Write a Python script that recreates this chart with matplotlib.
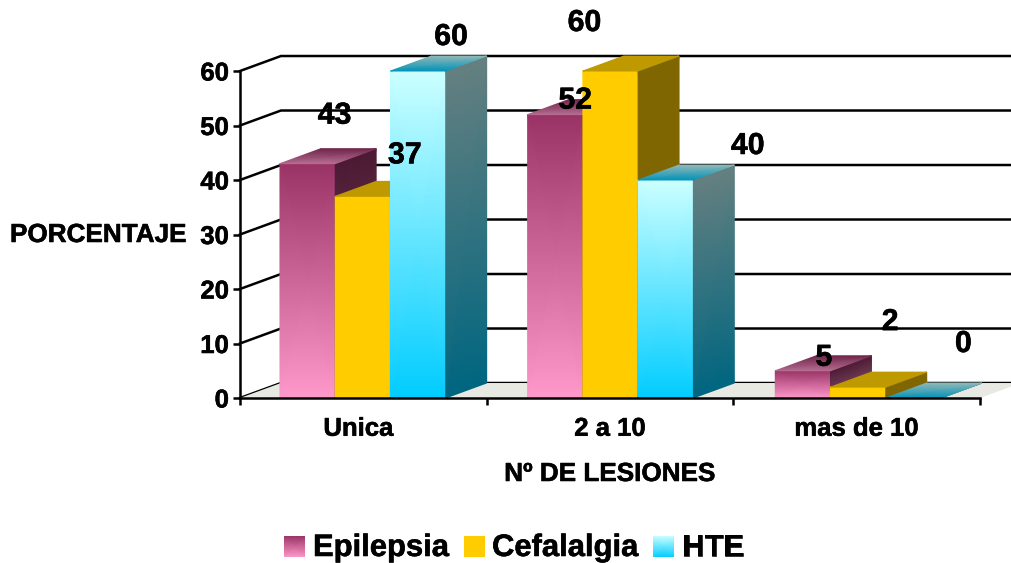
import numpy as np
import matplotlib
matplotlib.use("Agg")
import matplotlib.pyplot as plt
import matplotlib.patheffects as pe
from matplotlib.colors import to_rgb
from matplotlib.patches import Polygon

plt.rcParams["font.family"] = ["Liberation Sans", "DejaVu Sans"]
plt.rcParams["font.weight"] = "bold"

# Data
categories = ["Unica", "2 a 10", "mas de 10"]
series_names = ["Epilepsia", "Cefalalgia", "HTE"]
epilepsia = [43, 52, 5]
cefalalgia = [37, 60, 2]
hte = [60, 40, 0]
y_ticks = [0, 10, 20, 30, 40, 50, 60]

# Style: (colour at top of bar, colour at bottom of bar)
series_colors = [("#993366", "#ff99cc"), ("#ffcc00", "#ffcc00"), ("#ccffff", "#00ccff")]
# Value label shifts from the front-centre of each bar top, in pixels
label_shifts = [
    [(27, 48), (42, 41), (33, 34)],
    [(20, 14), (-26, 48), (82, 34)],
    [(21, 13), (32, 65), (50, 54)],
]

W, H = 1012, 563
BAR_W = 0.224
GAP = 0.162
GROUP_STEP = 1.004
DEPTH_X = 0.166
DEPTH_Y = 2.75
LINE_W = 1.8
heavy = [pe.withStroke(linewidth=0.4, foreground="black")]


def shade(color, k):
    return np.array(to_rgb(color)) * k


def quad(ax, xs, ys, colors, z):
    # xs, ys, colors are 2x2 corner grids, colours blended across the face
    ax.pcolormesh(np.array(xs), np.array(ys), np.array(colors), shading="gouraud",
                  zorder=z, clip_on=False, antialiased=True)


fig = plt.figure(figsize=(W / 100, H / 100), dpi=100)
ax = fig.add_axes([240 / W, (H - 398) / H, 740 / W, 327 / H])
ax.set_xlim(0, 3)
ax.set_ylim(0, 60)

# Back wall lines and floor
for t in y_ticks:
    ax.plot([0, DEPTH_X, 3 + DEPTH_X], [t, t + DEPTH_Y, t + DEPTH_Y], color="black",
            lw=LINE_W, clip_on=False, zorder=1, solid_joinstyle="miter")
ax.add_patch(Polygon([(0, 0), (3, 0), (3 + DEPTH_X, DEPTH_Y), (DEPTH_X, DEPTH_Y)],
                     facecolor="#e9e9e4", edgecolor="none", clip_on=False, zorder=1.5))

# Bars, left to right so each one covers the side of the previous one
all_values = [epilepsia, cefalalgia, hte]
z = 3
for i in range(len(categories)):
    for j, values in enumerate(all_values):
        v = values[i]
        x0 = i * GROUP_STEP + GAP + j * BAR_W
        x1 = x0 + BAR_W
        top, bottom = series_colors[j]
        if v > 0:
            quad(ax, [[x0, x1], [x0, x1]], [[0, 0], [v, v]],
                 [[shade(bottom, 1), shade(bottom, 1)], [shade(top, 1), shade(top, 1)]], z)
        # side face
        quad(ax, [[x1, x1 + DEPTH_X], [x1, x1 + DEPTH_X]],
             [[0, DEPTH_Y], [v, v + DEPTH_Y]],
             [[shade(bottom, 0.5), shade(bottom, 0.5)], [shade(top, 0.5), shade(top, 0.5)]], z)
        # top face, lighter at the front on the shaded series
        if j == 1:
            front = back = shade(top, 0.75)
        else:
            front = shade(bottom, 0.72)
            back = shade(top, 0.72)
        quad(ax, [[x0, x1], [x0 + DEPTH_X, x1 + DEPTH_X]],
             [[v, v], [v + DEPTH_Y, v + DEPTH_Y]],
             [[front, front], [back, back]], z)
        z += 1

# Axes
for name in ["top", "right"]:
    ax.spines[name].set_visible(False)
ax.spines["left"].set_linewidth(LINE_W)
ax.spines["bottom"].set_linewidth(LINE_W)
ax.spines["left"].set_zorder(40)
ax.spines["bottom"].set_zorder(40)
ax.set_yticks(y_ticks)
ax.tick_params(axis="y", labelsize=18.5, length=5, width=LINE_W, pad=3)
ax.set_xticks([0, 1, 2, 3])
ax.set_xticklabels([])
ax.tick_params(axis="x", which="major", length=5, width=LINE_W)
ax.set_xticks([0.48, 1.5, 2.5], minor=True)
ax.set_xticklabels(categories, minor=True)
ax.tick_params(axis="x", which="minor", length=0, labelsize=18.5, pad=13.5)
for label in ax.get_yticklabels() + ax.get_xticklabels(minor=True):
    label.set_path_effects(heavy)

# Value labels
for i in range(len(categories)):
    for j, values in enumerate(all_values):
        xc = i * GROUP_STEP + GAP + (j + 0.5) * BAR_W
        ax.annotate(str(values[i]), (xc, values[i]), xytext=label_shifts[i][j],
                    textcoords="offset pixels", ha="center", va="center",
                    fontsize=21.8, fontweight="bold", color="black", zorder=60,
                    annotation_clip=False, path_effects=heavy)

# Axis titles
fig.text(10 / W, 1 - 235 / H, "PORCENTAJE", fontsize=18.8, ha="left", va="center",
         path_effects=heavy)
fig.text(610 / W, 1 - 474 / H, "Nº DE LESIONES", fontsize=18.8, ha="center", va="center",
         path_effects=heavy)

# Legend with gradient swatches
swatch_x = [284, 464, 653]
text_x = [313, 492, 682]
for name, (top, bottom), sx, tx in zip(series_names, series_colors, swatch_x, text_x):
    sw = fig.add_axes([sx / W, (H - 557) / H, 21 / W, 21 / H])
    sw.pcolormesh(np.array([[0, 1], [0, 1]]), np.array([[0, 0], [1, 1]]),
                  np.array([[shade(bottom, 1), shade(bottom, 1)], [shade(top, 1), shade(top, 1)]]),
                  shading="gouraud")
    sw.axis("off")
    fig.text(tx / W, 1 - 548 / H, name, fontsize=22.3, ha="left", va="center",
             path_effects=heavy)

fig.savefig("out.png", dpi=100)
